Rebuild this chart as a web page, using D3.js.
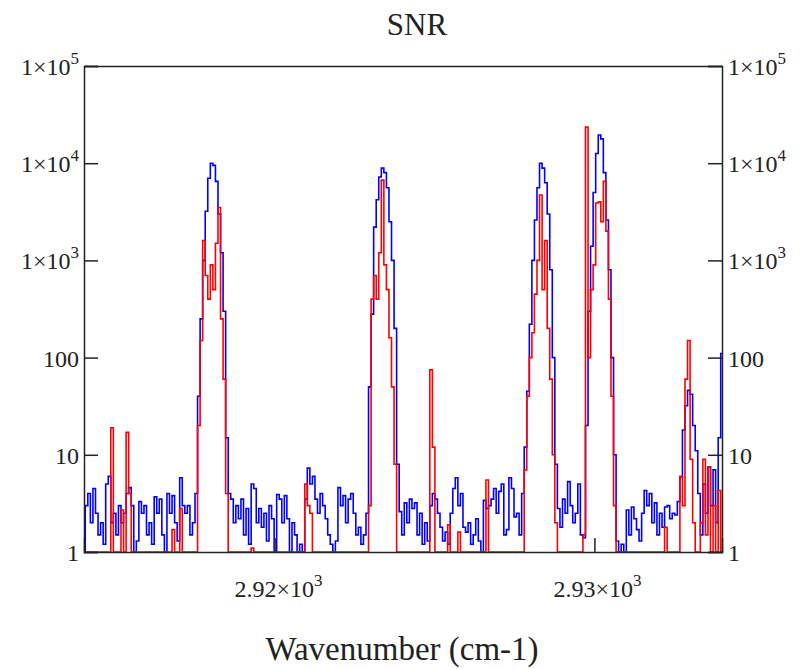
<!DOCTYPE html>
<html>
<head>
<meta charset="utf-8">
<script src="https://cdn.jsdelivr.net/npm/d3@7"></script>
<style>
  body { margin: 0; background: #fff; }
  text { font-family: "Liberation Serif", "Times New Roman", serif; fill: #222; }
</style>
</head>
<body>
<svg id="chart"></svg>
<script>
// wavenumber grid (cm-1)
const wnStart = 2914;
const wnStep = 0.08;

// SNR, blue trace
const snrBlue = [
  1, 3, 4, 2, 4.5, 2.5, 1.5, 2, 1.2, 5,
  6, 2, 2.5, 1.5, 3, 2, 2.5, 4, 4.6, 3,
  1, 1.3, 3.3, 2.5, 3, 1.5, 2, 1.2, 3.7, 2.5,
  3.5, 1.5, 1, 4, 2.5, 3.8, 2, 1.3, 5.8, 3,
  2.5, 3, 1.5, 2, 4, 40, 250, 1000, 3200, 7000,
  10000, 9500, 6500, 3000, 1200, 300, 15, 4, 3.5, 2,
  3, 2.2, 3.5, 1.5, 2.8, 1.2, 5, 4.5, 2, 2.8,
  1.8, 2.5, 1.3, 3, 2.2, 1, 3.9, 3.5, 2, 3.8,
  2.2, 1, 2, 1.5, 1, 1.2, 1, 3.5, 7.3, 5,
  6, 3.5, 2.5, 4, 3, 2.2, 1.5, 1.2, 1, 1.3,
  4.6, 3, 3.8, 2, 3.5, 4, 2.5, 1.5, 1.8, 1.2,
  1.5, 2.5, 50, 280, 2200, 4200, 7200, 8900, 8000, 5600,
  2500, 1000, 200, 8, 2.6, 1.5, 3.2, 2, 3.5, 2.8,
  3.2, 1.5, 2.5, 1.2, 2, 1.3, 3, 4, 3.5, 2.5,
  1.8, 1.3, 1.6, 1.2, 2.5, 4.5, 5.8, 3, 4, 1.8,
  1.6, 2, 1.2, 1.5, 2.2, 1.3, 1, 3.4, 2.8, 3,
  3.5, 4.5, 2.5, 4.2, 5, 1.5, 1.7, 5.8, 4.5, 2.3,
  2.5, 1.5, 4, 12, 45, 220, 1000, 2600, 5600, 10000,
  8900, 6300, 3000, 800, 100, 8, 2.8, 1.8, 3.5, 2.5,
  5.3, 3, 2, 2.5, 5, 1.5, 1.4, 20, 300, 1400,
  5000, 12600, 19500, 17800, 8000, 2600, 800, 100, 10, 1.3,
  1, 1.2, 1, 2.7, 1.5, 2.9, 2.2, 1.7, 1.3, 2.5,
  4.3, 3, 4, 2, 3.2, 1.5, 2.5, 1.8, 2.9, 3,
  2.2, 2.5, 2.4, 3.3, 5.9, 18, 32, 46, 42, 20,
  11, 4, 1.5, 5, 2.5, 7.5, 3, 7, 2, 15, 110
];

// SNR, red trace
const snrRed = [
  1, 1, 1, 1, 1, 1, 1, 1, 1, 1,
  1, 19, 1, 1, 1, 2.7, 1, 17, 4, 1,
  1, 1, 1, 1, 1, 1, 1, 1, 1, 1,
  1, 1, 1, 1, 1, 1.7, 1, 1, 2.8, 1,
  1, 1, 1, 1, 1, 20, 150, 1600, 700, 400,
  900, 500, 1500, 3500, 250, 60, 4, 1, 1, 1,
  1, 1, 1, 1, 1, 1, 1.1, 1, 1, 1,
  1, 1, 1, 1, 1, 1, 1, 1, 1, 1,
  1, 1, 1, 1, 1, 1, 1, 5, 3, 2.5,
  1, 1, 1, 1, 1, 1, 1, 1, 1, 1,
  1, 1, 1, 1, 1, 1, 1, 1, 1, 1,
  1, 1, 3, 400, 700, 400, 1200, 6700, 900, 500,
  160, 50, 8, 1, 1, 1, 1, 1, 1, 1,
  1, 1, 1, 1, 1, 1, 75, 12, 1, 1,
  1, 1, 1, 1.9, 1, 1, 1, 1.6, 1, 1,
  1, 1, 1, 1, 1, 1, 1, 1, 5.5, 1,
  1, 1, 1, 1, 1, 1, 1, 1, 1, 1,
  1, 1, 1, 7, 40, 100, 180, 450, 1000, 4700,
  500, 1600, 200, 60, 10, 2, 1, 1, 1, 1,
  1, 1, 1, 1, 1, 1, 1.5, 23500, 100, 500,
  900, 3900, 4000, 2500, 6500, 2000, 400, 40, 3, 1,
  1, 1, 1, 1, 1, 1, 1, 1, 1, 1,
  1, 1, 1, 1, 1, 1, 1, 1, 1.8, 1,
  1, 1, 1, 1, 6, 3, 60, 150, 9, 2,
  1, 1, 2, 9, 1.5, 7.5, 1, 3, 1, 4.3, 1
];

const xTicks = [2920, 2930];
const xTickLabels = ["2.92×10", "2.93×10"];
const xTickExp = ["3", "3"];
const yTicks = [1, 10, 100, 1000, 10000, 100000];
const yTickLabels = ["1", "10", "100", "1×10", "1×10", "1×10"];
const yTickExp = ["", "", "", "3", "4", "5"];

const width = 803;
const height = 669;
const margin = { top: 66, right: 81, bottom: 117, left: 84 };

const svg = d3.select("#chart").attr("width", width).attr("height", height);
svg.append("rect").attr("width", width).attr("height", height).attr("fill", "#fff");

const x = d3.scaleLinear()
  .domain([2914, 2934])
  .range([margin.left, width - margin.right]);
const y = d3.scaleLog()
  .domain([1, 1e5])
  .range([height - margin.bottom, margin.top])
  .clamp(true);

const wn = snrBlue.map((d, i) => wnStart + i * wnStep);

const line = d3.line()
  .curve(d3.curveStep)
  .x((d, i) => x(wn[i]))
  .y((d) => y(d));

svg.append("path")
  .datum(snrBlue)
  .attr("fill", "none")
  .attr("stroke", "#0000ff")
  .attr("stroke-width", 1.6)
  .attr("d", line);

svg.append("path")
  .datum(snrRed)
  .attr("fill", "none")
  .attr("stroke", "#ff0000")
  .attr("stroke-width", 1.6)
  .attr("d", line);

// axes, ticks inward
const tickLen = 14;
const axLeft = svg.append("g")
  .attr("transform", `translate(${margin.left},0)`)
  .call(d3.axisRight(y).tickValues(yTicks).tickSize(tickLen).tickFormat(""));
const axRight = svg.append("g")
  .attr("transform", `translate(${width - margin.right},0)`)
  .call(d3.axisLeft(y).tickValues(yTicks).tickSize(tickLen).tickFormat(""));
const axBottom = svg.append("g")
  .attr("transform", `translate(0,${height - margin.bottom})`)
  .call(d3.axisTop(x).tickValues(xTicks).tickSize(tickLen).tickFormat(""));
const axTop = svg.append("g")
  .attr("transform", `translate(0,${margin.top})`)
  .call(d3.axisBottom(x).tickValues([]).tickSize(0).tickFormat(""));

[axLeft, axRight, axBottom, axTop].forEach((g) => {
  g.select(".domain").attr("stroke", "#222").attr("stroke-width", 1.5);
  g.selectAll(".tick line").attr("stroke", "#222").attr("stroke-width", 1.5);
});

// tick labels
function label(g, tx, ty, anchor, main, exp) {
  const t = g.append("text")
    .attr("x", tx)
    .attr("y", ty)
    .attr("text-anchor", anchor)
    .attr("font-size", 24)
    .text(main);
  if (exp) {
    t.append("tspan").attr("dy", -11).attr("font-size", 17).text(exp);
  }
}

const labels = svg.append("g");
yTicks.forEach((v, i) => {
  label(labels, margin.left - 5, y(v) + 9, "end", yTickLabels[i], yTickExp[i]);
  label(labels, width - margin.right + 6, y(v) + 9, "start", yTickLabels[i], yTickExp[i]);
});
xTicks.forEach((v, i) => {
  label(labels, x(v) - 41, 597, "start", xTickLabels[i], xTickExp[i]);
});

svg.append("text")
  .attr("x", 417)
  .attr("y", 35)
  .attr("text-anchor", "middle")
  .attr("font-size", 31)
  .text("SNR");

svg.append("text")
  .attr("x", 402)
  .attr("y", 660)
  .attr("text-anchor", "middle")
  .attr("font-size", 33)
  .text("Wavenumber (cm-1)");
</script>
</body>
</html>
